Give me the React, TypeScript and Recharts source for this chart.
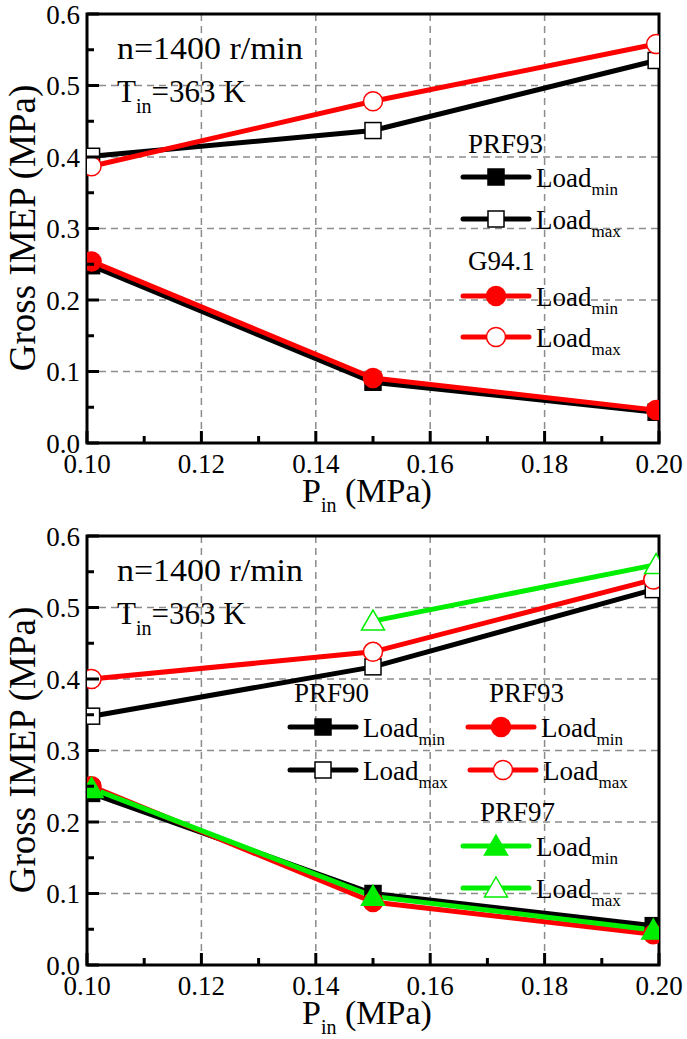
import { CartesianGrid, Line, LineChart, ReferenceArea, XAxis, YAxis } from 'recharts';

// axis ticks
const xMajorTicks = [0.1, 0.12, 0.14, 0.16, 0.18, 0.2];
const xMinorTicks = [0.11, 0.13, 0.15, 0.17, 0.19];
const xTickLabels = ['0.10', '0.12', '0.14', '0.16', '0.18', '0.20'];
const yMajorTicks = [0, 0.1, 0.2, 0.3, 0.4, 0.5, 0.6];
const yMinorTicks = [0.05, 0.15, 0.25, 0.35, 0.45, 0.55];
const yTickLabels = ['0.0', '0.1', '0.2', '0.3', '0.4', '0.5', '0.6'];
const xGridValues = [0.12, 0.14, 0.16, 0.18];
const yGridValues = [0.1, 0.2, 0.3, 0.4, 0.5];

// top panel: PRF93 vs G94.1
const topPin = [0.1008, 0.15, 0.1995];
const prf93MinTop = [0.248, 0.085, 0.043];
const prf93MaxTop = [0.401, 0.437, 0.535];
const g941Min = [0.254, 0.091, 0.046];
const g941Max = [0.387, 0.478, 0.558];

// bottom panel: PRF90 / PRF93 / PRF97
const bottomPin = [0.1008, 0.15, 0.199];
const prf90Min = [0.24, 0.1, 0.055];
const prf90Max = [0.348, 0.417, 0.525];
const prf93Min = [0.25, 0.088, 0.043];
const prf93Max = [0.4, 0.438, 0.539];
const prf97Min = [0.247, 0.096, 0.049];
const prf97MaxPin = [0.15, 0.1995];
const prf97Max = [0.481, 0.56];

const BLACK = '#000000';
const RED = '#ff0000';
const GREEN = '#00ee00';
const FONT = '"Liberation Serif", "Times New Roman", serif';

type Shape = 'square' | 'circle' | 'triangle';

type Series = {
  id: string;
  xs: number[];
  ys: number[];
  color: string;
  shape: Shape;
  filled: boolean;
};

const topSeries: Series[] = [
  { id: 'prf93min', xs: topPin, ys: prf93MinTop, color: BLACK, shape: 'square', filled: true },
  { id: 'prf93max', xs: topPin, ys: prf93MaxTop, color: BLACK, shape: 'square', filled: false },
  { id: 'g941min', xs: topPin, ys: g941Min, color: RED, shape: 'circle', filled: true },
  { id: 'g941max', xs: topPin, ys: g941Max, color: RED, shape: 'circle', filled: false },
];

const bottomSeries: Series[] = [
  { id: 'prf90min', xs: bottomPin, ys: prf90Min, color: BLACK, shape: 'square', filled: true },
  { id: 'prf90max', xs: bottomPin, ys: prf90Max, color: BLACK, shape: 'square', filled: false },
  { id: 'prf93min', xs: bottomPin, ys: prf93Min, color: RED, shape: 'circle', filled: true },
  { id: 'prf93max', xs: bottomPin, ys: prf93Max, color: RED, shape: 'circle', filled: false },
  { id: 'prf97min', xs: bottomPin, ys: prf97Min, color: GREEN, shape: 'triangle', filled: true },
  { id: 'prf97max', xs: prf97MaxPin, ys: prf97Max, color: GREEN, shape: 'triangle', filled: false },
];

const CHART_W = 687;
const CHART_H = 517;

function indexOf(list: number[], v: number) {
  return list.findIndex((t) => Math.abs(t - v) < 1e-6);
}

function Marker({ shape, cx, cy, color, filled }: { shape: Shape; cx: number; cy: number; color: string; filled: boolean }) {
  const fill = filled ? color : '#ffffff';
  if (shape === 'square') {
    return (
      <rect x={cx - 8} y={cy - 8} width={16} height={16} fill={fill} stroke={color} strokeWidth={1.5} />
    );
  }
  if (shape === 'circle') {
    return <circle cx={cx} cy={cy} r={9.5} fill={fill} stroke={color} strokeWidth={1.5} />;
  }
  return (
    <polygon
      points={`${cx},${cy - 11} ${cx + 11.5},${cy + 9} ${cx - 11.5},${cy + 9}`}
      fill={fill}
      stroke={color}
      strokeWidth={1.5}
    />
  );
}

function XTick(props: any) {
  const { x, y, payload } = props;
  const idx = indexOf(xMajorTicks, payload.value);
  const major = idx >= 0;
  return (
    <g>
      <line x1={x} x2={x} y1={y} y2={y - (major ? 12 : 7)} stroke={BLACK} strokeWidth={3} />
      {major ? (
        <text x={x} y={y + 30} textAnchor="middle" fontFamily={FONT} fontSize={27} fill={BLACK}>
          {xTickLabels[idx]}
        </text>
      ) : null}
    </g>
  );
}

function YTick(props: any) {
  const { x, y, payload } = props;
  const idx = indexOf(yMajorTicks, payload.value);
  const major = idx >= 0;
  return (
    <g>
      <line x1={x} x2={x + (major ? 12 : 7)} y1={y} y2={y} stroke={BLACK} strokeWidth={3} />
      {major ? (
        <text x={x - 7} y={y + 9.5} textAnchor="end" fontFamily={FONT} fontSize={27} fill={BLACK}>
          {yTickLabels[idx]}
        </text>
      ) : null}
    </g>
  );
}

function LegendRow({ x, y, color, shape, filled, sub }: { x: number; y: number; color: string; shape: Shape; filled: boolean; sub: string }) {
  return (
    <g>
      <line x1={x} x2={x + 66} y1={y} y2={y} stroke={color} strokeWidth={5} strokeLinecap="round" />
      <Marker shape={shape} cx={x + 33} cy={y} color={color} filled={filled} />
      <text x={x + 73} y={y + 10} fontFamily={FONT} fontSize={27} fill={BLACK}>
        Load
        <tspan fontSize={17} dy={8}>
          {sub}
        </tspan>
      </text>
    </g>
  );
}

function Caption() {
  return (
    <g fontFamily={FONT} fill={BLACK}>
      <text x={117} y={59} fontSize={31} textLength={186} lengthAdjust="spacingAndGlyphs">
        n=1400 r/min
      </text>
      <text x={117} y={102} fontSize={31}>
        T
        <tspan fontSize={20} dy={11}>
          in
        </tspan>
        <tspan fontSize={31} dy={-11}>
          =363 K
        </tspan>
      </text>
      <text transform="rotate(-90)" x={-228} y={35} textAnchor="middle" fontSize={37}>
        Gross IMEP (MPa)
      </text>
      <text x={302} y={502} fontSize={34}>
        P
        <tspan fontSize={20} dy={10}>
          in
        </tspan>
        <tspan fontSize={34} dy={-10}>
          {' (MPa)'}
        </tspan>
      </text>
    </g>
  );
}

function Panel({ series, legend }: { series: Series[]; legend: React.ReactNode }) {
  return (
    <div style={{ position: 'relative', width: CHART_W, height: CHART_H }}>
      <LineChart width={CHART_W} height={CHART_H} margin={{ top: 14, right: 28, bottom: 44, left: 27 }}>
        <CartesianGrid
          horizontalValues={yGridValues}
          verticalValues={xGridValues}
          stroke="#8c8c8c"
          strokeWidth={1.5}
          strokeDasharray="7 5"
        />
        <XAxis
          type="number"
          dataKey="x"
          domain={[0.1, 0.2]}
          ticks={[...xMajorTicks, ...xMinorTicks].sort((a, b) => a - b)}
          interval={0}
          height={30}
          axisLine={false}
          tickLine={false}
          tickSize={0}
          tickMargin={0}
          tick={<XTick />}
          allowDataOverflow
        />
        <YAxis
          type="number"
          dataKey="y"
          domain={[0, 0.6]}
          ticks={[...yMajorTicks, ...yMinorTicks].sort((a, b) => a - b)}
          interval={0}
          width={60}
          axisLine={false}
          tickLine={false}
          tickSize={0}
          tickMargin={0}
          tick={<YTick />}
          allowDataOverflow
        />
        <ReferenceArea x1={0.1} x2={0.2} y1={0} y2={0.6} fill="none" stroke={BLACK} strokeWidth={3} />
        {series.map((s) => (
          <Line
            key={s.id}
            data={s.xs.map((x, i) => ({ x, y: s.ys[i] }))}
            dataKey="y"
            type="linear"
            stroke={s.color}
            strokeWidth={5}
            isAnimationActive={false}
            activeDot={false}
            dot={(p: any) => (
              <Marker
                key={`${s.id}-${p.index}`}
                shape={s.shape}
                cx={p.cx}
                cy={p.cy}
                color={s.color}
                filled={s.filled}
              />
            )}
          />
        ))}
      </LineChart>
      <svg
        width={CHART_W}
        height={CHART_H}
        style={{ position: 'absolute', left: 0, top: 0, pointerEvents: 'none', overflow: 'visible' }}
      >
        <Caption />
        {legend}
      </svg>
    </div>
  );
}

function groupTitle(x: number, y: number, label: string) {
  return (
    <text x={x} y={y} fontFamily={FONT} fontSize={27} fill={BLACK}>
      {label}
    </text>
  );
}

export default function App() {
  const topLegend = (
    <g>
      {groupTitle(468, 153, 'PRF93')}
      <LegendRow x={463} y={177} color={BLACK} shape="square" filled sub="min" />
      <LegendRow x={463} y={219} color={BLACK} shape="square" filled={false} sub="max" />
      {groupTitle(468, 270, 'G94.1')}
      <LegendRow x={463} y={296} color={RED} shape="circle" filled sub="min" />
      <LegendRow x={463} y={337} color={RED} shape="circle" filled={false} sub="max" />
    </g>
  );
  const bottomLegend = (
    <g>
      {groupTitle(294, 180, 'PRF90')}
      <LegendRow x={290} y={205} color={BLACK} shape="square" filled sub="min" />
      <LegendRow x={290} y={248} color={BLACK} shape="square" filled={false} sub="max" />
      {groupTitle(489, 180, 'PRF93')}
      <LegendRow x={468} y={205} color={RED} shape="circle" filled sub="min" />
      <LegendRow x={470} y={248} color={RED} shape="circle" filled={false} sub="max" />
      {groupTitle(480, 299, 'PRF97')}
      <LegendRow x={463} y={324} color={GREEN} shape="triangle" filled sub="min" />
      <LegendRow x={463} y={366} color={GREEN} shape="triangle" filled={false} sub="max" />
    </g>
  );
  return (
    <div style={{ position: 'absolute', left: 0, top: 0, width: CHART_W, height: 1039, background: '#fff', overflow: 'hidden' }}>
      <Panel series={topSeries} legend={topLegend} />
      <div style={{ position: 'absolute', left: 0, top: 522 }}>
        <Panel series={bottomSeries} legend={bottomLegend} />
      </div>
    </div>
  );
}
